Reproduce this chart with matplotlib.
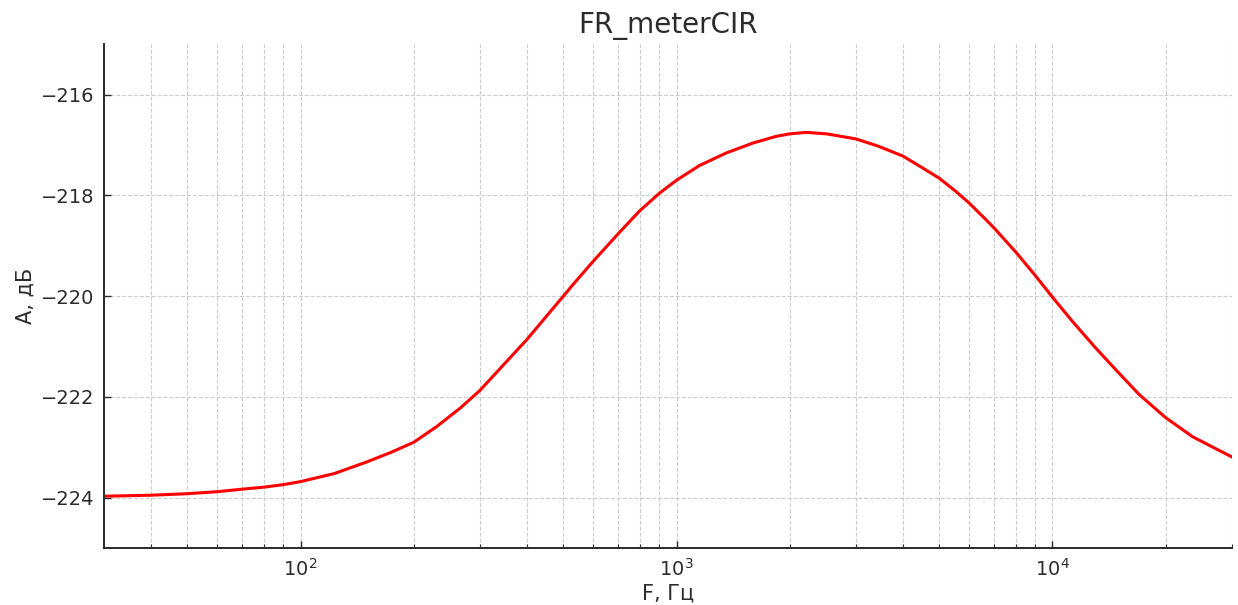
import matplotlib
matplotlib.use('Agg')
import matplotlib.pyplot as plt

# Frequency response
freq_hz = [30, 40, 50, 60, 70, 80, 90, 100, 123, 150, 174, 200, 230, 266, 300,
           400, 500, 532, 600, 700, 800, 900, 1000, 1150, 1355, 1600, 1840, 2000,
           2210, 2510, 3000, 3430, 4000, 4480, 5000, 5530, 6000, 6650, 7000, 8000,
           9000, 10000, 11300, 13000, 15000, 17000, 20000, 23600, 30000]
ampl_db = [-223.97, -223.95, -223.92, -223.88, -223.83, -223.79, -223.74, -223.68,
           -223.52, -223.29, -223.10, -222.90, -222.59, -222.22, -221.87,
           -220.86, -220.00, -219.76, -219.31, -218.76, -218.30, -217.96, -217.70,
           -217.41, -217.16, -216.96, -216.83, -216.78, -216.75, -216.78, -216.88,
           -217.02, -217.22, -217.44, -217.66, -217.92, -218.15, -218.48, -218.65,
           -219.13, -219.59, -220.02, -220.50, -221.02, -221.52, -221.95, -222.41,
           -222.79, -223.19]
y_ticks = [-224, -222, -220, -218, -216]

text_color = '#2b2b2b'

fig = plt.figure(figsize=(12.38, 6.05), dpi=100)
ax = fig.add_axes([0.084, 0.094, 0.911, 0.833])

ax.plot(freq_hz, ampl_db, color='red', linewidth=2.2)
ax.set_xscale('log')
ax.set_xlim(30, 30000)
ax.set_ylim(-225, -215)
ax.set_yticks(y_ticks)

ax.grid(True, which='major', axis='both', linestyle='--', color='#cccccc', linewidth=0.8)
ax.grid(True, which='minor', axis='x', linestyle='--', color='#cccccc', linewidth=0.8)

for side in ['top', 'right']:
    ax.spines[side].set_visible(False)
for side in ['left', 'bottom']:
    ax.spines[side].set_color(text_color)
    ax.spines[side].set_linewidth(1.4)

ax.tick_params(which='major', direction='in', length=5, width=1.0,
               colors=text_color, labelsize=14)
ax.tick_params(which='minor', direction='in', length=3, width=0.8, colors=text_color)
ax.tick_params(axis='x', pad=7)
ax.tick_params(axis='y', pad=7)

ax.set_title('FR_meterCIR', fontsize=20, color=text_color, pad=8)
ax.set_xlabel('F, Гц', fontsize=15, color=text_color, labelpad=3)
ax.set_ylabel('A, дБ', fontsize=15, color=text_color)

fig.savefig('out.png', dpi=100)
